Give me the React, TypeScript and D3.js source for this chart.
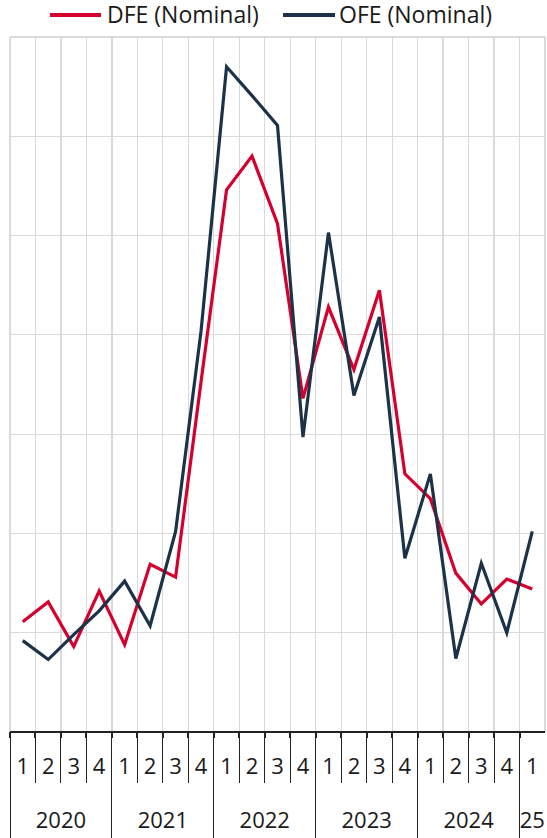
import React from "react";
import * as d3 from "d3";

const years = ["2020", "2021", "2022", "2023", "2024", "25"];
const quartersPerYear = [4, 4, 4, 4, 4, 1];
const quarterLabels = ["1", "2", "3", "4", "1", "2", "3", "4", "1", "2", "3", "4", "1", "2", "3", "4", "1", "2", "3", "4", "1"];

const dfe = [1.11, 1.31, 0.86, 1.42, 0.88, 1.69, 1.56, 3.53, 5.46, 5.8, 5.12, 3.36, 4.28, 3.65, 4.45, 2.6, 2.35, 1.6, 1.29, 1.54, 1.44];
const ofe = [0.92, 0.73, 0.98, 1.22, 1.52, 1.07, 2.02, 4.04, 6.7, 6.41, 6.11, 2.97, 5.03, 3.39, 4.18, 1.75, 2.6, 0.74, 1.7, 1.0, 2.02];

const yTicks = [0, 1, 2, 3, 4, 5, 6, 7];

const W = 547;
const H = 838;
const FONT = "'Open Sans', 'Noto Sans', sans-serif";
const RED = "#d6002f";
const NAVY = "#1c3249";

export default function App() {
  const idx = quarterLabels.map((_, i) => i);
  const x = d3.scaleBand<number>().domain(idx).range([10, 545]).padding(0);
  const y = d3.scaleLinear().domain([0, 7]).range([732, 37]);
  const bw = x.bandwidth();
  const line = d3
    .line<number>()
    .x((_, i) => (x(i) as number) + bw / 2)
    .y((d) => y(d));

  const groups: { label: string; start: number; end: number }[] = [];
  let s = 0;
  years.forEach((yr, k) => {
    groups.push({ label: yr, start: s, end: s + quartersPerYear[k] });
    s += quartersPerYear[k];
  });
  const yearStarts = new Set(groups.map((g) => g.start));

  const axisY = y(0);

  return (
    <svg
      width={W}
      height={H}
      style={{ position: "absolute", left: 0, top: 0, display: "block", background: "#fff" }}
      fontFamily={FONT}
    >
      <g stroke="#dadada" strokeWidth={1.2} shapeRendering="crispEdges">
        {yTicks.filter((t) => t > 0).map((t) => (
          <line key={"h" + t} x1={10} x2={545} y1={y(t)} y2={y(t)} />
        ))}
        {idx.map((i) => (
          <line key={"v" + i} x1={x(i)} x2={x(i)} y1={y(7)} y2={axisY} />
        ))}
        <line x1={545} x2={545} y1={y(7)} y2={axisY} />
      </g>

      <g stroke="#222" shapeRendering="crispEdges">
        <line x1={10} x2={545} y1={axisY} y2={axisY} strokeWidth={1.2} />
        {idx.map((i) => (
          <line
            key={"t" + i}
            x1={x(i)}
            x2={x(i)}
            y1={axisY}
            y2={yearStarts.has(i) ? H : axisY + 51}
            strokeWidth={1}
          />
        ))}
        {idx.map((i) => (
          <line key={"tk" + i} x1={x(i)} x2={x(i)} y1={axisY} y2={axisY + 6} strokeWidth={2} />
        ))}
      </g>

      <g fontSize={22} fill="#1a1a1a" textAnchor="middle">
        {quarterLabels.map((q, i) => (
          <text key={"q" + i} x={(x(i) as number) + bw / 2} y={774}>
            {q}
          </text>
        ))}
        {groups.map((g) => (
          <text key={"y" + g.label} x={((x(g.start) as number) + (x(g.end - 1) as number) + bw) / 2} y={828}>
            {g.label}
          </text>
        ))}
      </g>

      <path d={line(dfe) as string} fill="none" stroke={RED} strokeWidth={3.2} />
      <path d={line(ofe) as string} fill="none" stroke={NAVY} strokeWidth={3.2} />

      <g fontSize={23} fill="#1a1a1a">
        <line x1={50} x2={101} y1={15} y2={15} stroke={RED} strokeWidth={4} />
        <text x={107} y={23}>DFE (Nominal)</text>
        <line x1={283} x2={335} y1={15} y2={15} stroke={NAVY} strokeWidth={4} />
        <text x={339} y={23}>OFE (Nominal)</text>
      </g>
    </svg>
  );
}
